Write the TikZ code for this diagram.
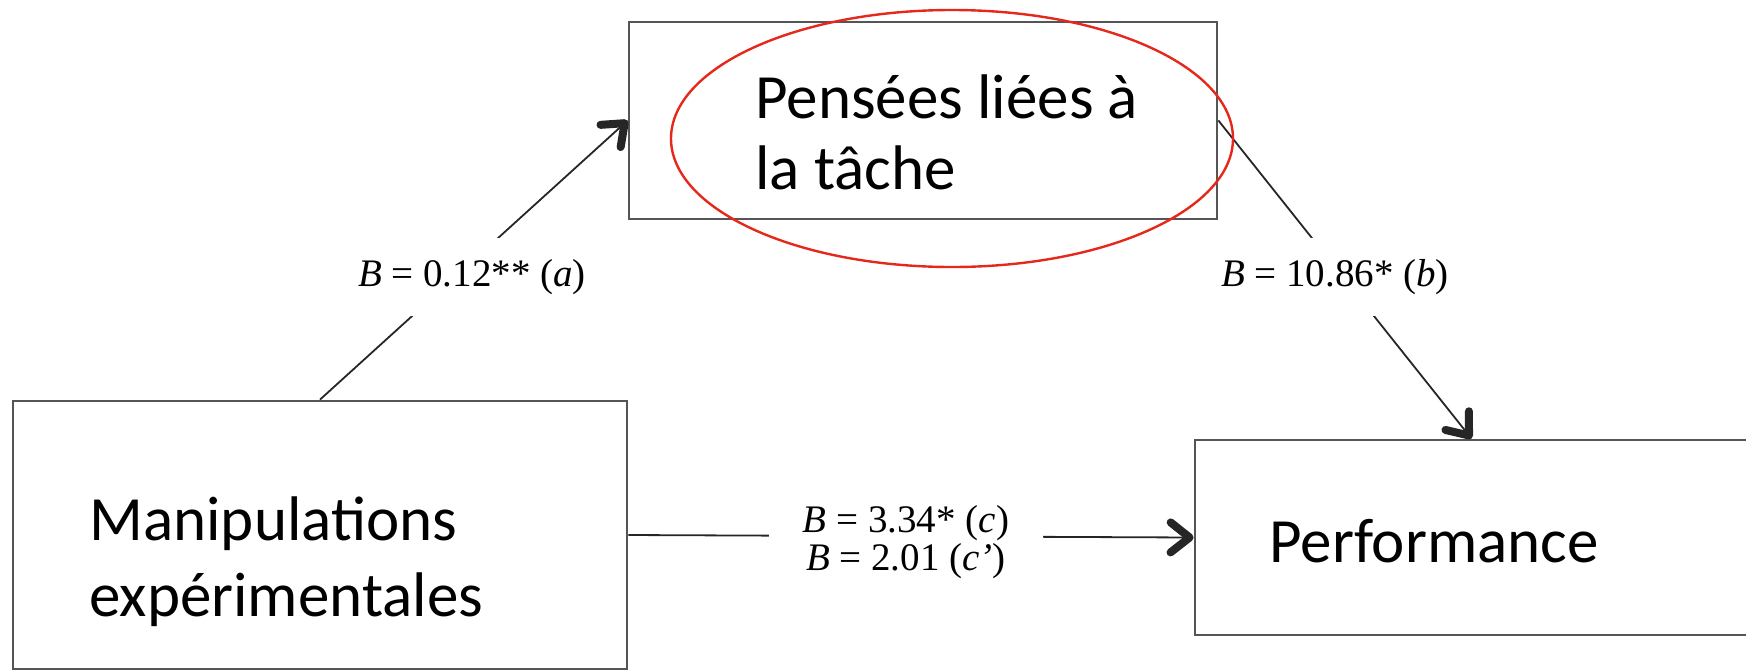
\documentclass[tikz,border=0pt]{standalone}
\usepackage{fontspec}
\setmainfont{Carlito}
\newfontfamily\timesfont{Liberation Serif}
\usetikzlibrary{arrows.meta}

\definecolor{boxgrey}{RGB}{85,85,85}
\definecolor{ringred}{RGB}{230,40,28}

\tikzset{
  varbox/.style={draw=boxgrey,line width=1.4pt,inner sep=0pt},
  vartext/.style={inner sep=0pt,align=left},
  link/.style={black!85,line width=0.9pt},
  coef/.style={fill=white,inner xsep=6pt,inner ysep=10.5pt,align=center,font=\timesfont\fontsize{19.5}{17.5}\selectfont}
}

\begin{document}
\begin{tikzpicture}[x=0.5pt,y=-0.5pt,>={Straight Barb[length=9.5pt,width=15pt,line width=4pt,round]}]
\useasboundingbox (0,0) rectangle (1746,671);
% the three variables
\node[varbox,minimum width=307pt,minimum height=134pt] (manip) at (320,535) {};
\node[varbox,minimum width=294pt,minimum height=98.5pt] (tache) at (923,120.5) {};
\node[varbox,minimum width=276.5pt,minimum height=97.5pt] (perf) at (1471.5,537.5) {};
\node[vartext,anchor=base west,font=\fontsize{31.5}{38}\selectfont] (manip-txt) at (89,616) {Manipulations\\expérimentales};
\node[vartext,anchor=base west,font=\fontsize{31.5}{35.5}\selectfont] (tache-txt) at (755,189) {Pensées liées à\\la tâche};
\node[vartext,anchor=base west,font=\fontsize{31.5}{36}\selectfont] (perf-txt) at (1269,562) {Performance};
% paths a, b, c
\draw[link,->] (manip.north) -- (tache.west);
\draw[link,->] (tache.east) -- (perf.north);
\draw[link,->] (manip.east) -- (perf.west);
\node[coef] (coef-a) at (472,277) {\textit{B} = 0.12** (\textit{a})};
\node[coef] (coef-b) at (1335,277) {\textit{B} = 10.86* (\textit{b})};
\node[coef,inner xsep=17pt] (coef-c) at (906,542) {\textit{B} = 3.34* (\textit{c})\\\textit{B} = 2.01 (\textit{c’})};
% red mark round the mediator
\draw[ringred,line width=1.2pt] (952,138.5) ellipse [x radius=140.5pt,y radius=64.25pt];
\end{tikzpicture}
\end{document}
